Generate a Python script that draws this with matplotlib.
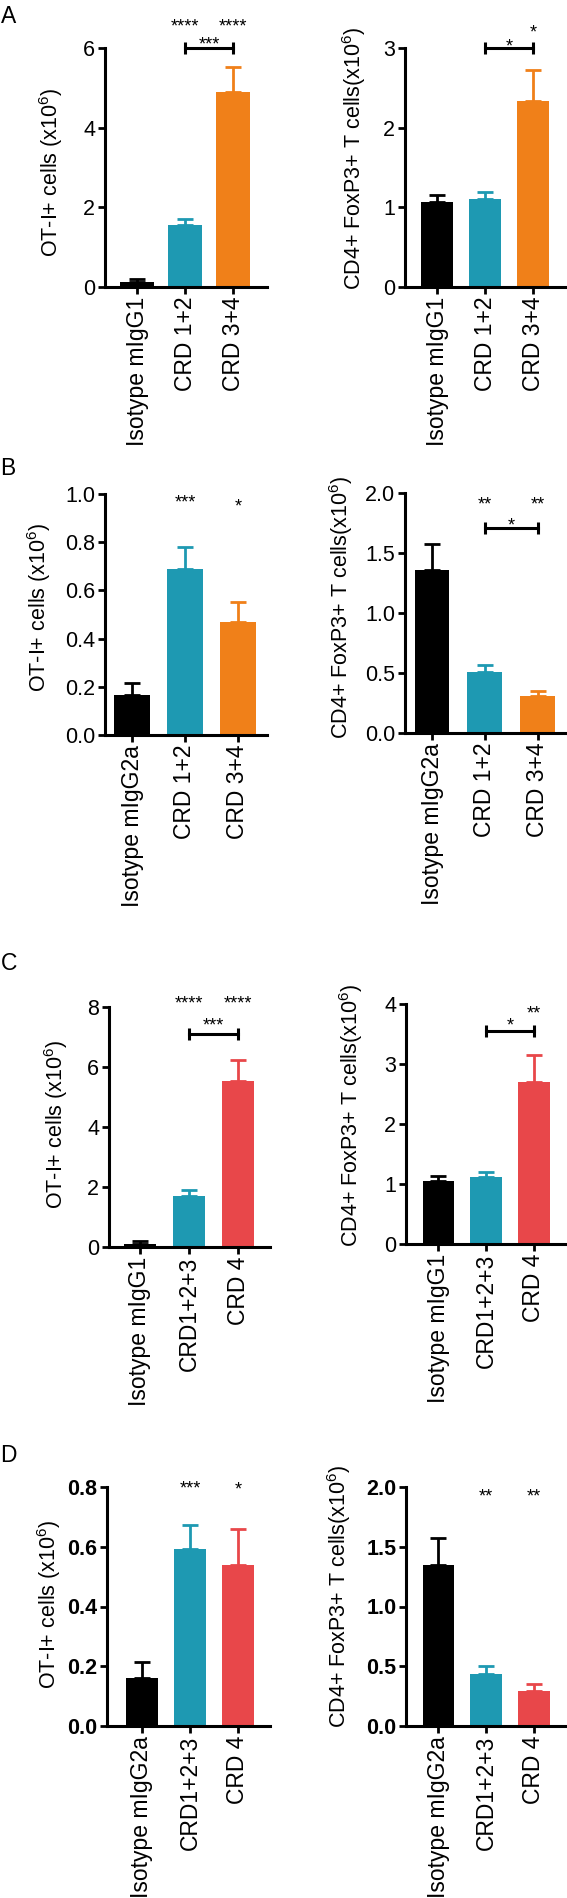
import numpy as np
import matplotlib
matplotlib.use('Agg')
import matplotlib.pyplot as plt

plt.rcParams['font.family'] = ['Liberation Sans', 'DejaVu Sans']
plt.rcParams['mathtext.fontset'] = 'custom'
plt.rcParams['mathtext.rm'] = 'Liberation Sans'
plt.rcParams['mathtext.bf'] = 'Liberation Sans:bold'

W, H = 567, 1898
BLACK = '#000000'
TEAL = '#1e99b2'
ORANGE = '#f08019'
RED = '#e8474a'

# group names
groups_ab_g1 = ['Isotype mIgG1', 'CRD 1+2', 'CRD 3+4']
groups_ab_g2a = ['Isotype mIgG2a', 'CRD 1+2', 'CRD 3+4']
groups_cd_g1 = ['Isotype mIgG1', 'CRD1+2+3', 'CRD 4']
groups_cd_g2a = ['Isotype mIgG2a', 'CRD1+2+3', 'CRD 4']

ot1_label = r'OT-I+ cells (x10$^{\mathregular{6}}$)'
treg_label = r'CD4+ FoxP3+ T cells(x10$^{\mathregular{6}}$)'

# A
a_ot1_mean = [0.13, 1.56, 4.89]
a_ot1_sem = [0.08, 0.15, 0.63]
a_treg_mean = [1.07, 1.10, 2.34]
a_treg_sem = [0.08, 0.09, 0.38]
# B
b_ot1_mean = [0.165, 0.688, 0.47]
b_ot1_sem = [0.052, 0.093, 0.081]
b_treg_mean = [1.357, 0.507, 0.305]
b_treg_sem = [0.216, 0.061, 0.047]
# C
c_ot1_mean = [0.09, 1.69, 5.52]
c_ot1_sem = [0.11, 0.20, 0.72]
c_treg_mean = [1.05, 1.11, 2.70]
c_treg_sem = [0.09, 0.09, 0.45]
# D
d_ot1_mean = [0.162, 0.594, 0.54]
d_ot1_sem = [0.053, 0.08, 0.12]
d_treg_mean = [1.347, 0.438, 0.293]
d_treg_sem = [0.226, 0.062, 0.061]

# significance: (bar, text, y) and (bar0, bar1, y, text, text y)
a_ot1_stars = [(1, '****', 6.69), (2, '****', 6.69)]
a_ot1_brackets = [(1, 2, 6.0, '***', 6.22)]
a_treg_stars = [(2, '*', 3.26)]
a_treg_brackets = [(1, 2, 3.0, '*', 3.09)]
b_ot1_stars = [(1, '***', 0.989), (2, '*', 0.972)]
b_ot1_brackets = []
b_treg_stars = [(1, '**', 1.948), (2, '**', 1.948)]
b_treg_brackets = [(1, 2, 1.711, '*', 1.775)]
c_ot1_stars = [(1, '****', 8.29), (2, '****', 8.29)]
c_ot1_brackets = [(1, 2, 7.1, '***', 7.57)]
c_treg_stars = [(2, '**', 3.93)]
c_treg_brackets = [(1, 2, 3.555, '*', 3.73)]
d_ot1_stars = [(1, '***', 0.812), (2, '*', 0.81)]
d_ot1_brackets = []
d_treg_stars = [(1, '**', 1.969), (2, '**', 1.969)]
d_treg_brackets = []


def box(l, r, top, bot):
    return [l / W, 1 - bot / H, (r - l) / W, (bot - top) / H]


def stars(ax, x, y, txt, fs=13):
    ax.annotate(txt, (x, y), xytext=(0, -0.58 * fs), textcoords='offset points',
                ha='center', va='baseline', fontsize=fs, annotation_clip=False)


def panel(fig, rect, xlim, width, names, means, sems, colors, yticks, fmt,
          ylabel, lab_x, lab_y, star_list, bracket_list, bold=False):
    ax = fig.add_axes(box(*rect))
    x = np.arange(len(names))
    ax.bar(x, means, width=width, color=colors, zorder=2)
    for xi, m, s, c in zip(x, means, sems, colors):
        ax.errorbar(xi, m, yerr=[[0], [s]], color=c, capsize=6, elinewidth=2,
                    capthick=2, zorder=3)
    ax.set_xlim(*xlim)
    ax.set_ylim(yticks[0], yticks[-1])
    ax.set_yticks(yticks)
    ax.set_yticklabels([fmt % t for t in yticks], fontsize=15.5,
                       fontweight='bold' if bold else 'normal')
    ax.set_xticks(x)
    ax.set_xticklabels(names, rotation=90, fontsize=16.5)
    for s in ['top', 'right']:
        ax.spines[s].set_visible(False)
    for s in ['left', 'bottom']:
        ax.spines[s].set_linewidth(2.2)
    ax.tick_params(direction='out', length=5, width=2, pad=2)
    ax.set_ylabel(ylabel, fontsize=15.5)
    l, r, top, bot = rect
    ax.yaxis.set_label_coords((lab_x - l) / (r - l), (bot - lab_y) / (bot - top))
    for i, txt, y in star_list:
        stars(ax, i, y, txt)
    for i0, i1, y, txt, ty in bracket_list:
        ax.plot([i0, i1], [y, y], color='k', lw=2.2, marker='|', ms=8, mew=2.2,
                clip_on=False, zorder=4)
        stars(ax, (i0 + i1) / 2, ty, txt)
    return ax


fig = plt.figure(figsize=(W / 100, H / 100), dpi=100)

cols_ab = [BLACK, TEAL, ORANGE]
cols_cd = [BLACK, TEAL, RED]

panel(fig, (105, 267, 48, 287), (-0.667, 2.708), 0.69, groups_ab_g1, a_ot1_mean, a_ot1_sem,
      cols_ab, [0, 2, 4, 6], '%g', ot1_label, 65, 172, a_ot1_stars, a_ot1_brackets)
panel(fig, (405, 567, 48, 287), (-0.667, 2.708), 0.67, groups_ab_g1, a_treg_mean, a_treg_sem,
      cols_ab, [0, 1, 2, 3], '%g', treg_label, 368, 158, a_treg_stars, a_treg_brackets)

panel(fig, (105, 267, 494, 735), (-0.51, 2.55), 0.68, groups_ab_g2a, b_ot1_mean, b_ot1_sem,
      cols_ab, [0, 0.2, 0.4, 0.6, 0.8, 1.0], '%.1f', ot1_label, 53, 607, b_ot1_stars, b_ot1_brackets)
panel(fig, (405, 567, 493, 733), (-0.51, 2.55), 0.66, groups_ab_g2a, b_treg_mean, b_treg_sem,
      cols_ab, [0, 0.5, 1.0, 1.5, 2.0], '%.1f', treg_label, 355, 607, b_treg_stars, b_treg_brackets)

panel(fig, (109, 270, 1007, 1247), (-0.63, 2.65), 0.65, groups_cd_g1, c_ot1_mean, c_ot1_sem,
      cols_cd, [0, 2, 4, 6, 8], '%g', ot1_label, 70, 1124, c_ot1_stars, c_ot1_brackets)
panel(fig, (406, 567, 1004, 1244), (-0.67, 2.69), 0.65, groups_cd_g1, c_treg_mean, c_treg_sem,
      cols_cd, [0, 1, 2, 3, 4], '%g', treg_label, 365, 1115, c_treg_stars, c_treg_brackets)

panel(fig, (107, 270, 1487, 1726), (-0.73, 2.67), 0.66, groups_cd_g2a, d_ot1_mean, d_ot1_sem,
      cols_cd, [0, 0.2, 0.4, 0.6, 0.8], '%.1f', ot1_label, 63, 1604, d_ot1_stars, d_ot1_brackets,
      bold=True)
panel(fig, (406, 567, 1487, 1726), (-0.67, 2.69), 0.65, groups_cd_g2a, d_treg_mean, d_treg_sem,
      cols_cd, [0, 0.5, 1.0, 1.5, 2.0], '%.1f', treg_label, 353, 1596, d_treg_stars, d_treg_brackets,
      bold=True)

for letter, yb in [('A', 23), ('B', 475), ('C', 970), ('D', 1462)]:
    fig.text(0.5 / W, 1 - yb / H, letter, fontsize=16.5, va='baseline', ha='left')

fig.savefig('out.png', dpi=100)
